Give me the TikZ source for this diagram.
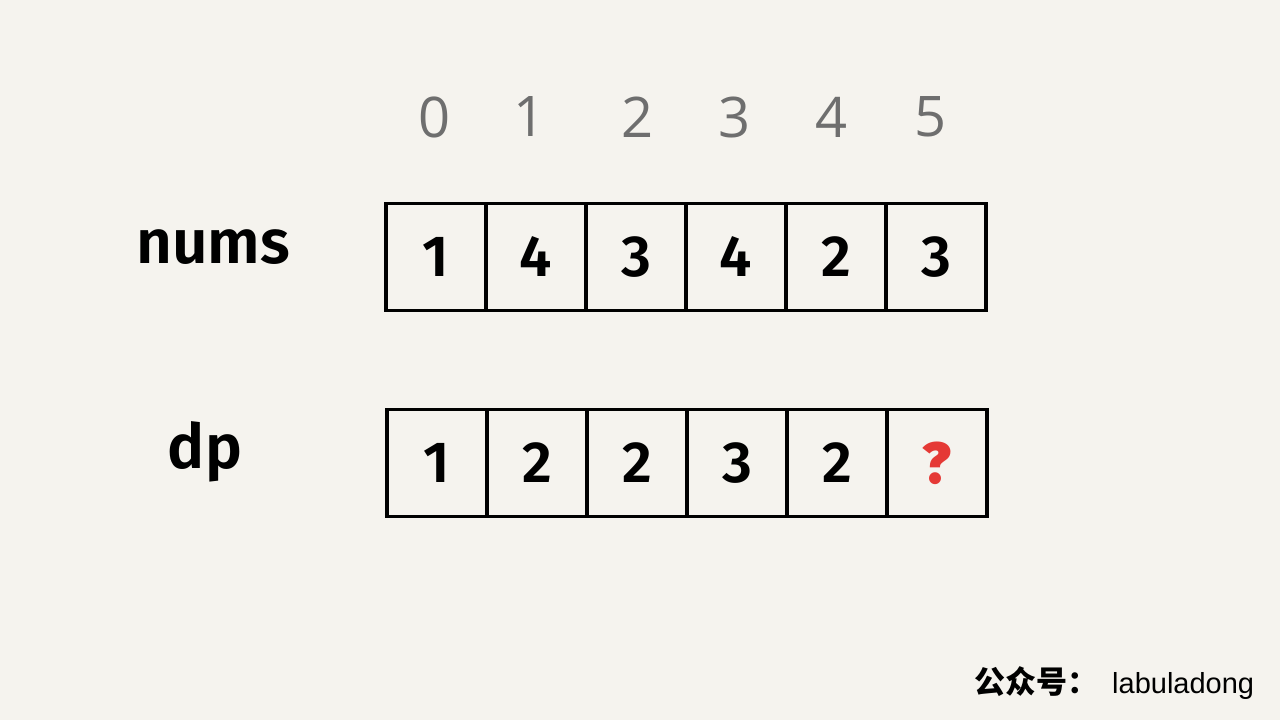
\documentclass[tikz,border=0pt]{standalone}
\usepackage{fontspec}
\setmainfont{Fira Sans}
\newfontfamily\idxfont{Open Sans}
\newfontfamily\semifont{Fira Sans}[UprightFont=* SemiBold]
\newfontfamily\wmfont{Liberation Sans}
\newfontfamily\cjk{Noto Sans CJK SC}
\definecolor{bg}{HTML}{F5F3EE}
\definecolor{idxgray}{HTML}{6E6E6E}
\definecolor{qred}{HTML}{E53935}
\begin{document}
\begin{tikzpicture}[x=1pt,y=-1pt,
  cellbox/.style={draw=black,line width=3.5pt,rectangle,minimum width=100pt,minimum height=107pt,inner sep=0pt,font=\semifont\fontsize{58}{60}\selectfont},
  idxlbl/.style={text=idxgray,font=\idxfont\fontsize{56}{60}\selectfont,inner sep=0pt},
  rowlbl/.style={font=\semifont\fontsize{62}{66}\selectfont,inner sep=0pt}]
\fill[bg] (0,0) rectangle (1280,720);
\useasboundingbox (0,0) rectangle (1280,720);
% index labels
\foreach \i/\x in {0/435,1/530,2/638,3/735,4/832,5/930}
  \node[idxlbl] (idx\i) at (\x,117) {\i};
% row labels
\node[rowlbl,anchor=base] (lblnums) at (213,263) {nums};
\node[rowlbl,anchor=base] (lbldp) at (205,468) {dp};
% nums cells
\foreach \i/\v in {0/1,1/4,2/3,3/4,4/2,5/3}
  \node[cellbox] (n\i) at ({436+100*\i},257) {\v};
% dp cells
\foreach \i/\v in {0/1,1/2,2/2,3/3,4/2}
  \node[cellbox] (d\i) at ({437+100*\i},463) {\v};
\node[cellbox,text=qred,font=\semifont\bfseries\fontsize{58}{60}\selectfont] (d5) at (937,463) {?};
% watermark
\node[anchor=base west,inner sep=0pt,font=\cjk\bfseries\fontsize{31}{34}\selectfont] (wm1) at (974,693) {公众号：};
\node[anchor=base west,inner sep=0pt,font=\wmfont\fontsize{29}{32}\selectfont] (wm2) at (1112,693) {labuladong};
\end{tikzpicture}
\end{document}
